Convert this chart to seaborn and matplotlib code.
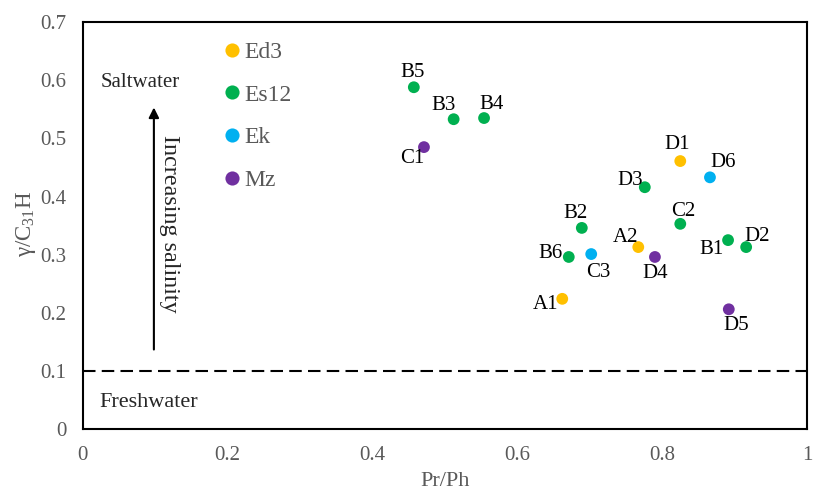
import matplotlib
matplotlib.use("Agg")
import matplotlib.pyplot as plt
import seaborn as sns
import pandas as pd

# Samples: name, formation, Pr/Ph, gammacerane index
sample_names = ["A1", "A2", "D1",
                "B1", "B2", "B3", "B4", "B5", "B6", "C2", "D2", "D3",
                "C3", "D6",
                "C1", "D4", "D5"]
formations = ["Ed3", "Ed3", "Ed3",
              "Es12", "Es12", "Es12", "Es12", "Es12", "Es12", "Es12", "Es12", "Es12",
              "Ek", "Ek",
              "Mz", "Mz", "Mz"]
pr_ph = [0.662, 0.767, 0.825,
         0.891, 0.689, 0.512, 0.554, 0.457, 0.671, 0.825, 0.916, 0.776,
         0.702, 0.866,
         0.471, 0.790, 0.892]
gamma_c31 = [0.224, 0.313, 0.461,
             0.325, 0.346, 0.533, 0.535, 0.588, 0.296, 0.353, 0.313, 0.416,
             0.301, 0.433,
             0.485, 0.296, 0.206]

formation_order = ["Ed3", "Es12", "Ek", "Mz"]
formation_colors = ["#FFC000", "#00B050", "#00B0F0", "#7030A0"]

# label placement around each dot, in pixels (dx, dy)
label_offsets = {
    "A1": (-17, -6), "A2": (-13, 10), "D1": (-3, 17),
    "B1": (-17, -9), "B2": (-6, 14), "B3": (-10, 14), "B4": (8, 14),
    "B5": (-1, 15), "B6": (-18, 3), "C2": (3, 12), "D2": (11, 11),
    "D3": (-15, 7), "C3": (7, -18), "D6": (13, 15),
    "C1": (-12, -11), "D4": (0, -17), "D5": (7, -16),
}

df = pd.DataFrame({"name": sample_names, "Formation": formations,
                   "Pr/Ph": pr_ph, "gamma": gamma_c31})

sns.set_style("white")
plt.rcParams["font.family"] = ["Liberation Serif", "DejaVu Serif"]
plt.rcParams["mathtext.fontset"] = "custom"
plt.rcParams["mathtext.rm"] = "Liberation Serif"
plt.rcParams["mathtext.it"] = "Liberation Serif:italic"

gray = "#595959"
fig = plt.figure(figsize=(8.13, 4.92), dpi=100)
ax = fig.add_axes([0.102, 0.128, 0.8906, 0.827])

sns.scatterplot(data=df, x="Pr/Ph", y="gamma", hue="Formation",
                hue_order=formation_order,
                palette=dict(zip(formation_order, formation_colors)),
                s=72, edgecolor="none", linewidth=0, ax=ax, zorder=3)

for name, x, y in zip(sample_names, pr_ph, gamma_c31):
    dx, dy = label_offsets[name]
    ax.annotate(name, (x, y), xytext=(dx, dy), textcoords="offset pixels",
                ha="center", va="center", fontsize=15, color="black")

# freshwater / saltwater boundary
ax.axhline(0.1, color="black", linestyle=(0, (6, 3)), linewidth=1.5, zorder=2)

ax.annotate("", xy=(0.098, 0.558), xytext=(0.098, 0.132),
            arrowprops=dict(arrowstyle="-|>", color="black", lw=1.5,
                            mutation_scale=15))
ax.text(0.024, 0.597, "Saltwater", fontsize=15, ha="left", va="center")
ax.text(0.023, 0.045, "Freshwater", fontsize=16, ha="left", va="center")
ax.text(0.120, 0.353, "Increasing salinity", fontsize=17.4, rotation=-90,
        ha="center", va="center")

ax.set_xlim(0, 1)
ax.set_ylim(0, 0.7)
ax.set_xticks([0, 0.2, 0.4, 0.6, 0.8, 1.0])
ax.set_xticklabels(["0", "0.2", "0.4", "0.6", "0.8", "1"])
ax.set_yticks([0, 0.1, 0.2, 0.3, 0.4, 0.5, 0.6, 0.7])
ax.set_yticklabels(["0", "0.1", "0.2", "0.3", "0.4", "0.5", "0.6", "0.7"])
ax.tick_params(direction="in", length=5, width=1.2, colors="black",
               labelcolor=gray, labelsize=15, pad=12)
ax.tick_params(axis="x", pad=12)
ax.set_xlabel("Pr/Ph", fontsize=16, color=gray, labelpad=5)
ax.set_ylabel(r"γ/C$_{31}$H", fontsize=16.5, color=gray)
ax.yaxis.set_label_coords(-0.062, 0.505)
for sp in ax.spines.values():
    sp.set_visible(True)
    sp.set_color("black")
    sp.set_linewidth(1.5)

leg = ax.legend(loc="upper left", bbox_to_anchor=(0.1977, 0.952), frameon=False,
                fontsize=17, labelcolor=gray, handlelength=0.5,
                handletextpad=0.26, labelspacing=0.89, markerscale=1.2,
                borderpad=0.0, borderaxespad=0.0)

fig.savefig("out.png", dpi=100)
